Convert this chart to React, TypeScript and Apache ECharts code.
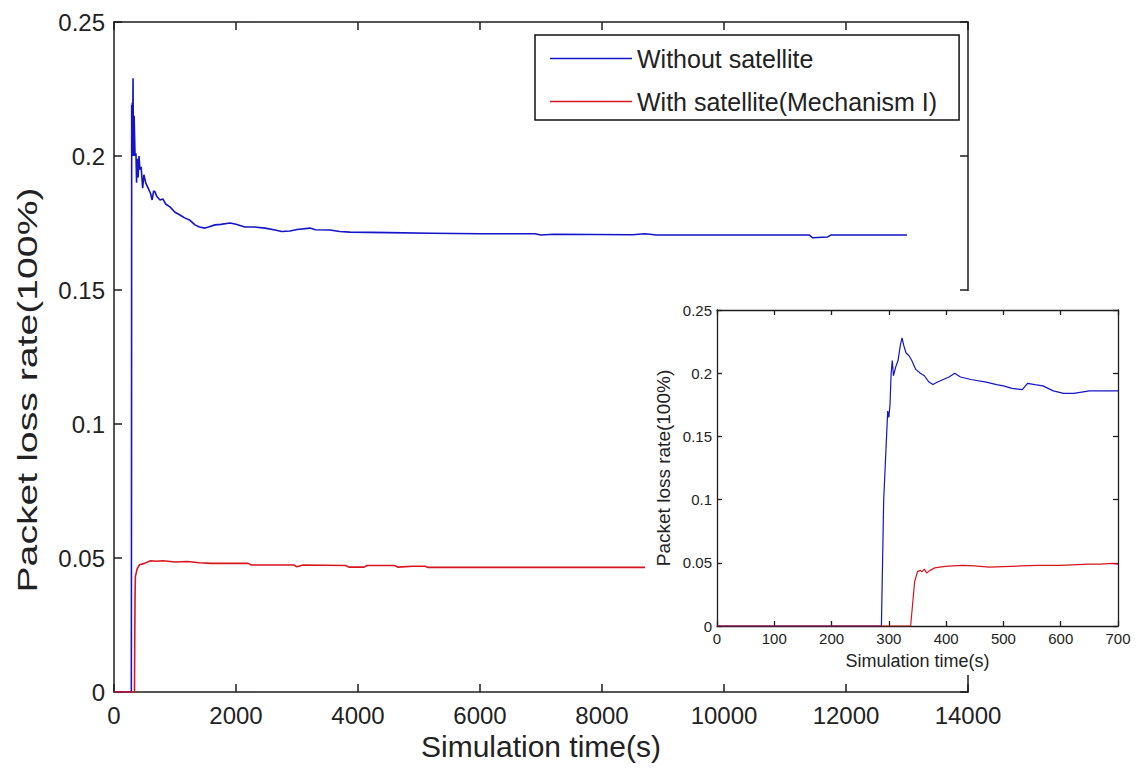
import React, { useEffect, useRef } from "react";
import * as echarts from "echarts";

const FONT = '"Liberation Sans", Arial, sans-serif';

const seriesNames = ["Without satellite", "With satellite(Mechanism I)"];
const xTitle = "Simulation time(s)";
const yTitle = "Packet loss rate(100%)";

// main plot ranges / ticks
const mainX = { min: 0, max: 14000, interval: 2000 };
const mainY = { min: 0, max: 0.25, interval: 0.05 };
// inset ranges / ticks
const insetX = { min: 0, max: 700, interval: 100 };
const insetY = { min: 0, max: 0.25, interval: 0.05 };

const mainWithout: [number, number][] = [
  [0, 0], [284, 0], [287, 0.08], [290, 0.219], [295, 0.2], [300, 0.22], [305, 0.2], [312, 0.229],
  [318, 0.2], [330, 0.215], [345, 0.2], [360, 0.201], [370, 0.19], [380, 0.199], [395, 0.192],
  [410, 0.2], [425, 0.195], [445, 0.196], [470, 0.188], [490, 0.193], [520, 0.19], [560, 0.188],
  [600, 0.186], [625, 0.1836], [650, 0.187], [672, 0.1866], [700, 0.185], [754, 0.1836], [800, 0.184],
  [850, 0.182], [918, 0.181], [1000, 0.179], [1082, 0.178], [1150, 0.177], [1246, 0.176], [1328, 0.1743],
  [1400, 0.1735], [1492, 0.1731], [1550, 0.1735], [1655, 0.1743], [1750, 0.1745], [1901, 0.175],
  [2000, 0.1745], [2147, 0.1735], [2300, 0.1735], [2475, 0.1731], [2639, 0.1724], [2750, 0.1718],
  [2885, 0.172], [3000, 0.1726], [3213, 0.1731], [3300, 0.1725], [3540, 0.1724], [3700, 0.1718],
  [3868, 0.1716], [4500, 0.1714], [5200, 0.1712], [6000, 0.171], [6900, 0.171], [7000, 0.1705],
  [7200, 0.1708], [8500, 0.1706], [8700, 0.171], [8900, 0.1705], [11400, 0.1705], [11450, 0.1695],
  [11700, 0.1698], [11750, 0.1705], [13000, 0.1705],
];

const mainWith: [number, number][] = [
  [0, 0], [336, 0], [340, 0.02], [345, 0.035], [350, 0.043], [360, 0.044], [380, 0.046], [420, 0.0475],
  [500, 0.048], [600, 0.049], [700, 0.0488], [800, 0.049], [1000, 0.0485], [1200, 0.0487], [1400, 0.0482],
  [1600, 0.048], [2200, 0.048], [2250, 0.0474], [2950, 0.0474], [3000, 0.0467], [3100, 0.0474],
  [3800, 0.0472], [3850, 0.0466], [4100, 0.0466], [4150, 0.0472], [4600, 0.0472], [4650, 0.0466],
  [4900, 0.0469], [5100, 0.0469], [5150, 0.0465], [13000, 0.0465],
];

const insetWithout: [number, number][] = [
  [0, 0], [287, 0], [289, 0.05], [291, 0.1], [294, 0.13], [296, 0.15], [298, 0.17], [300, 0.165],
  [302, 0.175], [304, 0.2], [306, 0.21], [308, 0.198], [312, 0.205], [316, 0.21], [320, 0.222],
  [323, 0.228], [326, 0.222], [330, 0.216], [335, 0.214], [340, 0.21], [347, 0.203], [355, 0.2],
  [362, 0.198], [370, 0.193], [377, 0.191], [385, 0.193], [395, 0.195], [405, 0.197], [415, 0.2],
  [425, 0.197], [443, 0.195], [470, 0.193], [488, 0.191], [500, 0.19], [515, 0.188], [533, 0.187],
  [542, 0.192], [555, 0.191], [569, 0.19], [587, 0.186], [605, 0.184], [623, 0.184], [650, 0.186],
  [675, 0.186], [700, 0.186],
];

const insetWith: [number, number][] = [
  [0, 0], [338, 0], [341, 0.015], [345, 0.035], [350, 0.043], [355, 0.044], [358, 0.043], [362, 0.045],
  [366, 0.042], [372, 0.044], [380, 0.046], [395, 0.047], [410, 0.0475], [430, 0.048], [450, 0.0475],
  [475, 0.0466], [500, 0.047], [530, 0.0475], [560, 0.048], [600, 0.048], [650, 0.049], [670, 0.049],
  [690, 0.0495], [700, 0.049],
];

const BLUE = "#1414c8";
const RED = "#d8141e";
const AX = "#1e1e1e";

function axis(opts: any) {
  const { gridIndex, position, range, showLabel, fontSize, tickLen, margin, z, lineW } = opts;
  return {
    type: "value",
    gridIndex,
    position,
    min: range.min,
    max: range.max,
    interval: range.interval,
    z,
    axisLine: { show: true, onZero: false, lineStyle: { color: AX, width: lineW } },
    axisTick: { show: true, inside: true, length: tickLen, lineStyle: { color: AX, width: lineW } },
    axisLabel: {
      show: showLabel,
      fontSize,
      fontFamily: FONT,
      color: "#222",
      margin,
      formatter: (v: number) => String(v),
    },
    splitLine: { show: false },
    ...(opts.extra || {}),
  };
}

const LEGEND_ICON = "path://M0,0H80V1.6H0Z";

export default function App() {
  const ref = useRef<HTMLDivElement>(null);
  useEffect(() => {
    const chart = echarts.init(ref.current!, null, { renderer: "svg" });
    const option: any = {
      animation: false,
      backgroundColor: "#fff",
      grid: [
        { left: 114, top: 22, width: 854, height: 670, outerBoundsMode: "none", containLabel: false },
        { left: 717, top: 310, width: 401, height: 316, outerBoundsMode: "none", containLabel: false },
      ],
      xAxis: [
        axis({
          gridIndex: 0, position: "bottom", range: mainX, showLabel: true, fontSize: 24, tickLen: 8,
          margin: 11, z: 0, lineW: 1.5,
          extra: {
            name: xTitle, nameLocation: "middle", nameGap: 35,
            nameTextStyle: { fontSize: 30, fontFamily: FONT, color: "#222" },
          },
        }),
        axis({ gridIndex: 0, position: "top", range: mainX, showLabel: false, fontSize: 24, tickLen: 8, margin: 8, z: 0, lineW: 1.5 }),
        axis({
          gridIndex: 1, position: "bottom", range: insetX, showLabel: true, fontSize: 15, tickLen: 5,
          margin: 5, z: 60, lineW: 1.3,
          extra: {
            name: xTitle, nameLocation: "middle", nameGap: 26,
            nameTextStyle: { fontSize: 18, fontFamily: FONT, color: "#222" },
          },
        }),
        axis({ gridIndex: 1, position: "top", range: insetX, showLabel: false, fontSize: 15, tickLen: 5, margin: 5, z: 60, lineW: 1.3 }),
      ],
      yAxis: [
        axis({ gridIndex: 0, position: "left", range: mainY, showLabel: true, fontSize: 24, tickLen: 8, margin: 9, z: 0, lineW: 1.5 }),
        axis({ gridIndex: 0, position: "right", range: mainY, showLabel: false, fontSize: 24, tickLen: 8, margin: 8, z: 0, lineW: 1.5 }),
        axis({
          gridIndex: 1, position: "left", range: insetY, showLabel: true, fontSize: 15, tickLen: 5,
          margin: 5, z: 60, lineW: 1.3,
          extra: {
            name: yTitle, nameLocation: "middle", nameGap: 44, nameRotate: 90,
            nameTextStyle: { fontSize: 19, fontFamily: FONT, color: "#222" },
          },
        }),
        axis({ gridIndex: 1, position: "right", range: insetY, showLabel: false, fontSize: 15, tickLen: 5, margin: 5, z: 60, lineW: 1.3 }),
      ],
      legend: {
        show: true,
        data: seriesNames.map((n) => ({ name: n, icon: LEGEND_ICON })),
        orient: "vertical",
        left: 535,
        top: 35,
        padding: [11, 22, 6, 15],
        itemWidth: 82,
        itemHeight: 24,
        itemGap: 18,
        symbolKeepAspect: true,
        backgroundColor: "#fff",
        borderColor: "#111",
        borderWidth: 1.5,
        borderRadius: 0,
        textStyle: { fontSize: 25, fontFamily: FONT, color: "#222" },
      },
      graphic: [
        {
          type: "rect",
          z: 50,
          shape: { x: 645, y: 291, width: 494, height: 384 },
          style: { fill: "#fff" },
        },
        {
          type: "text",
          z: 5,
          x: 27,
          y: 390,
          rotation: Math.PI / 2,
          scaleX: 1.4,
          style: {
            text: yTitle,
            fontSize: 28,
            fontFamily: FONT,
            fill: "#222",
            align: "center",
            verticalAlign: "middle",
            textAlign: "center",
            textVerticalAlign: "middle",
          },
        },
      ],
      series: [
        {
          name: seriesNames[0], type: "line", xAxisIndex: 0, yAxisIndex: 0, data: mainWithout,
          symbol: "none", showSymbol: false, z: 2, lineStyle: { color: BLUE, width: 1.6 }, itemStyle: { color: BLUE },
        },
        {
          name: seriesNames[1], type: "line", xAxisIndex: 0, yAxisIndex: 0, data: mainWith,
          symbol: "none", showSymbol: false, z: 2, lineStyle: { color: RED, width: 1.6 }, itemStyle: { color: RED },
        },
        {
          name: seriesNames[0], type: "line", xAxisIndex: 2, yAxisIndex: 2, data: insetWithout,
          symbol: "none", showSymbol: false, z: 60, lineStyle: { color: BLUE, width: 1.2 }, itemStyle: { color: BLUE },
        },
        {
          name: seriesNames[1], type: "line", xAxisIndex: 2, yAxisIndex: 2, data: insetWith,
          symbol: "none", showSymbol: false, z: 60, lineStyle: { color: RED, width: 1.2 }, itemStyle: { color: RED },
        },
      ],
    };
    chart.setOption(option);
    return () => chart.dispose();
  }, []);
  return (
    <div
      ref={ref}
      style={{ position: "absolute", left: 0, top: 0, width: 1139, height: 769, background: "#fff" }}
    />
  );
}
